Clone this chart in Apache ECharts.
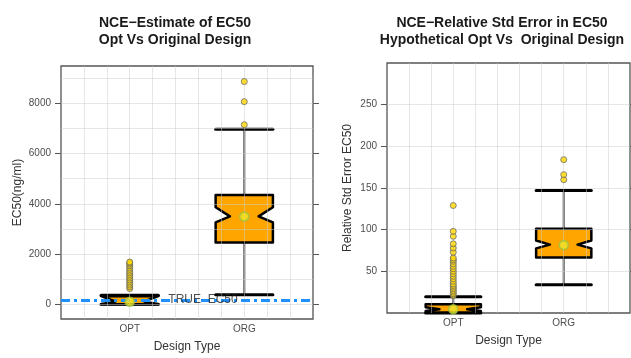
<!DOCTYPE html>
<html>
<head>
<meta charset="utf-8">
<script src="https://cdn.jsdelivr.net/npm/echarts@6/dist/echarts.min.js"></script>
<style>
  html, body { margin: 0; padding: 0; background: #fff; }
  #chart { width: 631px; height: 358px; }
</style>
</head>
<body>
<div id="chart"></div>
<script>
// ---------------- DATA ----------------
const categories = ['OPT', 'ORG'];
const catPos = [1, 2];

// Left panel: NCE estimate of EC50 (ng/ml)
const ec50Lower   = [0, 380];
const ec50Q1      = [0, 2460];
const ec50Median  = [110, 3500];
const ec50Q3      = [320, 4350];
const ec50Upper   = [360, 6970];
const ec50NotchLo = [0, 3260];
const ec50NotchHi = [320, 3860];
const ec50Mean    = [100, 3490];
const ec50OutOPT  = [620, 690, 760, 830, 900, 970, 1040, 1110, 1180, 1250, 1320, 1390, 1460, 1530, 1590, 1640, 1680];
const ec50OutORG  = [7150, 8070, 8870];
const trueEC50    = 160;
const ec50Ticks   = [0, 2000, 4000, 6000, 8000];
const ec50Grid    = [0, 1000, 2000, 3000, 4000, 5000, 6000, 7000, 8000, 9000];

// Right panel: relative std error in EC50
const rseLower    = [0, 34];
const rseQ1       = [0.5, 66.5];
const rseMedian   = [4.5, 82];
const rseQ3       = [10.5, 101];
const rseUpper    = [19.5, 147];
const rseNotchLo  = [2.5, 77.5];
const rseNotchHi  = [7, 87];
const rseMean     = [4.5, 81.5];
const rseOutOPT   = [21, 23, 25, 27, 29, 31, 33, 35, 38, 41, 44, 47, 50, 53, 56, 59, 62, 64, 66, 73, 78, 83, 92, 98, 129];
const rseOutORG   = [160, 166, 184];
const rseTicks    = [50, 100, 150, 200, 250];
const rseGrid     = [50, 100, 150, 200, 250];

const xGrid = [0.6, 0.8, 1.0, 1.2, 1.4, 1.6, 1.8, 2.0, 2.2, 2.4];

// ---------------- STYLE ----------------
const FONT = 'Liberation Sans, Arial, sans-serif';
const BOX_W = 0.5;
const TRUE_LABEL_X = 1.64;

function boxRows(lo, q1, med, q3, hi, nlo, nhi) {
  return catPos.map((x, i) => [x, lo[i], q1[i], med[i], q3[i], hi[i], nlo[i], nhi[i]]);
}
function pts(x, arr) { return arr.map(v => [x, v]); }

function renderBox(params, api) {
  const x = api.value(0);
  const wlo = api.value(1), q1 = api.value(2), med = api.value(3), q3 = api.value(4),
        whi = api.value(5), nlo = api.value(6), nhi = api.value(7);
  const y = v => api.coord([x, v])[1];
  const cx = api.coord([x, med])[0];
  const w = api.size([BOX_W, 0])[0];
  const L = cx - w / 2, R = cx + w / 2, ind = w / 4;
  const whiskerStyle = { stroke: '#6b6b6b', lineWidth: 2.2 };
  const capStyle = { stroke: '#000', lineWidth: 3, lineCap: 'round' };
  return {
    type: 'group',
    children: [
      { type: 'line', shape: { x1: cx, y1: y(q1), x2: cx, y2: y(wlo) }, style: whiskerStyle },
      { type: 'line', shape: { x1: cx, y1: y(q3), x2: cx, y2: y(whi) }, style: whiskerStyle },
      { type: 'line', shape: { x1: L, y1: y(wlo), x2: R, y2: y(wlo) }, style: capStyle },
      { type: 'line', shape: { x1: L, y1: y(whi), x2: R, y2: y(whi) }, style: capStyle },
      {
        type: 'polygon',
        shape: {
          points: [
            [L, y(q3)], [R, y(q3)], [R, y(nhi)], [R - ind, y(med)], [R, y(nlo)],
            [R, y(q1)], [L, y(q1)], [L, y(nlo)], [L + ind, y(med)], [L, y(nhi)]
          ]
        },
        style: { fill: '#FFA500', stroke: '#000', lineWidth: 2.5, lineJoin: 'round' }
      }
    ]
  };
}

const outlierStyle = { color: '#FFD700', borderColor: '#6a6a6a', borderWidth: 1 };
const meanStyle = { color: '#F0E52A', borderColor: '#9DC23C', borderWidth: 1.6 };

function mainX(gridIndex, nameGap) {
  return {
    type: 'value', gridIndex, min: 0.4, max: 2.6, position: 'bottom',
    axisLine: { show: false }, axisTick: { show: false },
    axisLabel: {
      customValues: catPos, margin: 5, color: '#4d4d4d', fontSize: 10, fontFamily: FONT,
      formatter: v => categories[catPos.findIndex(p => Math.abs(p - v) < 1e-6)] || ''
    },
    splitLine: { show: false },
    name: 'Design Type', nameLocation: 'middle', nameGap,
    nameTextStyle: { color: '#333', fontSize: 12, fontFamily: FONT }
  };
}
function gridX(gridIndex) {
  return {
    type: 'value', gridIndex, min: 0.4, max: 2.6, z: 3,
    axisLine: { show: false }, axisLabel: { show: false },
    axisTick: { show: false, customValues: xGrid },
    splitLine: { show: true, lineStyle: { color: 'rgba(205,205,205,0.5)', width: 1 } }
  };
}
function mainY(gridIndex, min, max, ticks, name, nameGap) {
  return {
    type: 'value', gridIndex, min, max, position: 'left',
    axisLine: { show: false },
    axisTick: { show: true, customValues: ticks, length: 6, inside: false, lineStyle: { color: '#555', width: 1 } },
    axisLabel: { customValues: ticks, margin: 10, color: '#4d4d4d', fontSize: 10, fontFamily: FONT, formatter: v => String(v) },
    splitLine: { show: false },
    name, nameLocation: 'middle', nameGap,
    nameTextStyle: { color: '#333', fontSize: 12, fontFamily: FONT }
  };
}
function rightY(gridIndex, min, max, ticks) {
  return {
    type: 'value', gridIndex, min, max, position: 'right',
    axisLine: { show: false },
    axisTick: { show: true, customValues: ticks, length: 6, lineStyle: { color: '#555', width: 1 } },
    axisLabel: { show: false }, splitLine: { show: false }
  };
}
function gridY(gridIndex, min, max, lines) {
  return {
    type: 'value', gridIndex, min, max, position: 'left', z: 3,
    axisLine: { show: false }, axisLabel: { show: false },
    axisTick: { show: false, customValues: lines },
    splitLine: { show: true, lineStyle: { color: 'rgba(205,205,205,0.5)', width: 1 } }
  };
}

const chart = echarts.init(document.getElementById('chart'), null, { renderer: 'canvas' });

const option = {
  backgroundColor: '#fff',
  animation: false,
  title: [
    {
      text: 'NCE\u2212Estimate of EC50\nOpt Vs Original Design',
      left: 170, top: 10, textAlign: 'center',
      textStyle: { fontSize: 14, fontWeight: 'bold', color: '#1a1a1a', fontFamily: FONT, lineHeight: 17 }
    },
    {
      text: 'NCE\u2212Relative Std Error in EC50\nHypothetical Opt Vs  Original Design',
      left: 497, top: 10, textAlign: 'center',
      textStyle: { fontSize: 14, fontWeight: 'bold', color: '#1a1a1a', fontFamily: FONT, lineHeight: 17 }
    }
  ],
  grid: [
    { left: 61, top: 66, width: 252, height: 257, show: true, borderColor: '#555', borderWidth: 1.3, backgroundColor: 'transparent' },
    { left: 387, top: 63, width: 243, height: 250, show: true, borderColor: '#555', borderWidth: 1.3, backgroundColor: 'transparent' }
  ],
  xAxis: [
    mainX(0, 22), gridX(0),
    mainX(1, 22), gridX(1)
  ],
  yAxis: [
    mainY(0, -590, 9490, ec50Ticks, 'EC50(ng/ml)', 37),
    rightY(0, -590, 9490, ec50Ticks),
    gridY(0, -590, 9490, ec50Grid),
    mainY(1, 0, 300, rseTicks, 'Relative Std Error EC50', 33),
    rightY(1, 0, 300, rseTicks),
    gridY(1, 0, 300, rseGrid)
  ],
  series: [
    // ---- left panel ----
    {
      type: 'custom', xAxisIndex: 0, yAxisIndex: 0, z: 2,
      renderItem: renderBox,
      data: boxRows(ec50Lower, ec50Q1, ec50Median, ec50Q3, ec50Upper, ec50NotchLo, ec50NotchHi)
    },
    {
      type: 'scatter', xAxisIndex: 0, yAxisIndex: 0, z: 4, symbol: 'circle', symbolSize: 6,
      itemStyle: outlierStyle,
      data: pts(catPos[0], ec50OutOPT).concat(pts(catPos[1], ec50OutORG))
    },
    {
      type: 'line', xAxisIndex: 0, yAxisIndex: 0, z: 4, data: [],
      markLine: {
        silent: true, symbol: 'none', animation: false,
        label: { show: false },
        lineStyle: { color: '#1E90FF', width: 3, type: [9, 4, 3, 4] },
        data: [{ yAxis: trueEC50 }]
      }
    },
    {
      type: 'scatter', xAxisIndex: 0, yAxisIndex: 0, z: 5, symbolSize: 0,
      label: { show: true, position: 'inside', formatter: 'TRUE  EC50', color: '#222', fontSize: 12, fontFamily: FONT },
      data: [[TRUE_LABEL_X, trueEC50]]
    },
    {
      type: 'scatter', xAxisIndex: 0, yAxisIndex: 0, z: 6, symbol: 'circle', symbolSize: 9,
      itemStyle: meanStyle,
      data: catPos.map((x, i) => [x, ec50Mean[i]])
    },
    // ---- right panel ----
    {
      type: 'custom', xAxisIndex: 2, yAxisIndex: 3, z: 2,
      renderItem: renderBox,
      data: boxRows(rseLower, rseQ1, rseMedian, rseQ3, rseUpper, rseNotchLo, rseNotchHi)
    },
    {
      type: 'scatter', xAxisIndex: 2, yAxisIndex: 3, z: 4, symbol: 'circle', symbolSize: 6,
      itemStyle: outlierStyle,
      data: pts(catPos[0], rseOutOPT).concat(pts(catPos[1], rseOutORG))
    },
    {
      type: 'scatter', xAxisIndex: 2, yAxisIndex: 3, z: 6, symbol: 'circle', symbolSize: 9,
      itemStyle: meanStyle,
      data: catPos.map((x, i) => [x, rseMean[i]])
    }
  ]
};
chart.setOption(option);
</script>
</body>
</html>
